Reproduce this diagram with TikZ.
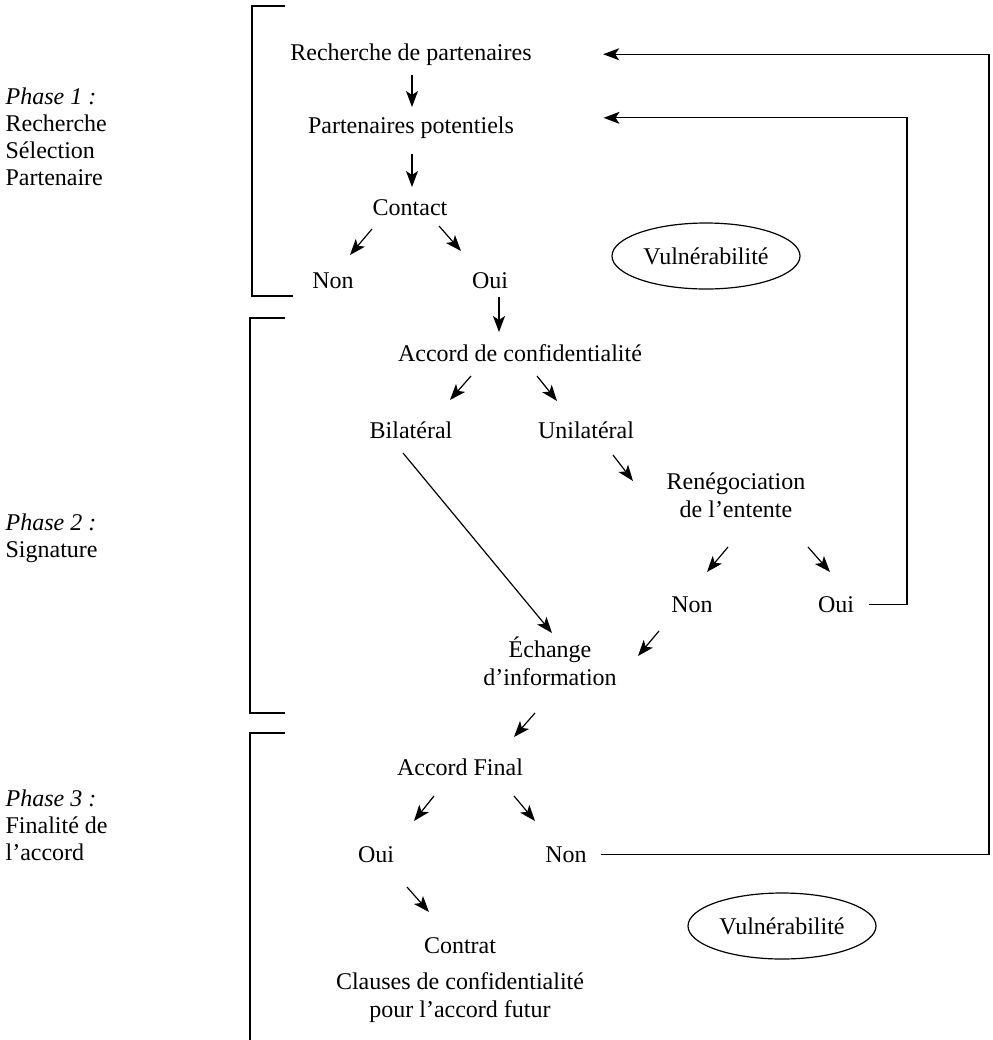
\documentclass[tikz,border=0pt]{standalone}
\usepackage{fontspec}
\setmainfont{Liberation Serif}
\usetikzlibrary{arrows.meta, shapes.geometric}

\begin{document}
\begin{tikzpicture}[x=0.5pt, y=-0.5pt, line width=0.6pt,
  >={Stealth[length=8pt, width=6pt, inset=2pt]},
  etape/.style={font=\fontsize{12}{14}\selectfont, align=center, inner sep=0pt, anchor=base},
  phase/.style={font=\fontsize{12}{13.4}\selectfont, align=left, inner sep=0pt, anchor=base west},
  vuln/.style={ellipse, draw, inner sep=0pt, minimum width=94pt, minimum height=33pt,
    font=\fontsize{12}{14}\selectfont}]

\useasboundingbox (0,0) rectangle (992,1040);

%------------------------------------------------
% CROCHETS ET PHASES
%------------------------------------------------
\draw (285,6) -- (252,6) -- (252,296) -- (293,296);
\draw (285,318) -- (250,318) -- (250,713) -- (285,713);
\draw (285,733) -- (250,733) -- (250,1040);

% (ancre base = derniere ligne)
\node[phase] (phase1) at (5,185) {\textit{Phase 1 :}\\Recherche\\Sélection\\Partenaire};
\node[phase] (phase2) at (5,557) {\textit{Phase 2 :}\\Signature};
\node[phase] (phase3) at (5,860) {\textit{Phase 3 :}\\Finalité de\\l’accord};

%------------------------------------------------
% ETAPES
%------------------------------------------------
\node[etape] (rech)    at (411,60)  {Recherche de partenaires};
\node[etape] (pot)     at (411,133) {Partenaires potentiels};
\node[etape] (contact) at (410,215) {Contact};
\node[etape] (non1)    at (333,288) {Non};
\node[etape] (oui1)    at (490,288) {Oui};
\node[etape] (accord)  at (520,361) {Accord de confidentialité};
\node[etape] (bila)    at (411,438) {Bilatéral};
\node[etape] (unila)   at (586,438) {Unilatéral};
\node[etape] (reneg)   at (736,517) {Renégociation\\de l’entente};
\node[etape] (non2)    at (692,612) {Non};
\node[etape] (oui2)    at (836,612) {Oui};
\node[etape] (echange) at (550,685) {Échange\\d’information};
\node[etape] (final)   at (460,775) {Accord Final};
\node[etape] (oui3)    at (376,862) {Oui};
\node[etape] (non3)    at (566,862) {Non};
\node[etape] (contrat) at (460,953) {Contrat};
\node[etape] (clauses) at (460,1017) {Clauses de confidentialité\\pour l’accord futur};

% Vulnerabilite
\node[vuln] (vuln1) at (706,256) {Vulnérabilité};
\node[vuln] (vuln2) at (782,926) {Vulnérabilité};

%------------------------------------------------
% FLECHES
%------------------------------------------------
\draw[->] ([shift={(1,15)}]rech.base) -- ([shift={(1,-26)}]pot.base);
\draw[->] ([shift={(1,21)}]pot.base) -- ([shift={(2,-28)}]contact.base);
\draw[->] ([shift={(-38,14)}]contact.base) -- ([shift={(17,-33)}]non1.base);
\draw[->] ([shift={(29,11)}]contact.base) -- ([shift={(-29,-37)}]oui1.base);
\draw[->] ([shift={(9,9)}]oui1.base) -- ([shift={(-21,-29)}]accord.base);
\draw[->] ([shift={(-49,15)}]accord.base) -- ([shift={(39,-38)}]bila.base);
\draw[->] ([shift={(17,15)}]accord.base) -- ([shift={(-29,-37)}]unila.base);
\draw[->] ([shift={(27,17)}]unila.base) -- ([shift={(-103,-36)}]reneg.base);
\draw[->] ([shift={(-8,15)}]bila.base) -- ([shift={(2,-52)}]echange.base);
\draw[->] ([shift={(-8,30)}]reneg.base) -- ([shift={(15,-40)}]non2.base);
\draw[->] ([shift={(72,30)}]reneg.base) -- ([shift={(-6,-40)}]oui2.base);
\draw[->] ([shift={(-33,19)}]non2.base) -- ([shift={(88,-29)}]echange.base);
\draw[->] ([shift={(-15,28)}]echange.base) -- ([shift={(54,-38)}]final.base);
\draw[->] ([shift={(-26,21)}]final.base) -- ([shift={(38,-41)}]oui3.base);
\draw[->] ([shift={(54,21)}]final.base) -- ([shift={(-31,-41)}]non3.base);
\draw[->] ([shift={(31,25)}]oui3.base) -- ([shift={(-31,-41)}]contrat.base);

% Retours vers la recherche
\coordinate (bord1) at (989,0);
\coordinate (bord2) at (907,0);
\draw[->, shorten <=7pt, shorten >=35.5pt] (non3.east) -- (non3.east -| bord1) |- (rech.east);
\draw[->, shorten <=7pt, shorten >=44.5pt] (oui2.east) -- (oui2.east -| bord2) |- ([yshift=4.7pt]pot.east);

\end{tikzpicture}
\end{document}
